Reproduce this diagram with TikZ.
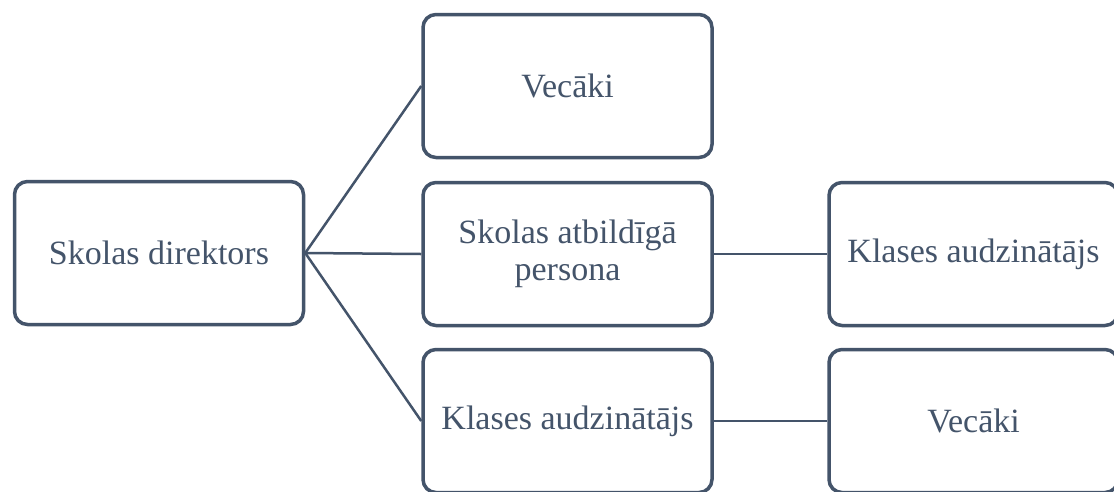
\documentclass[tikz,border=0pt]{standalone}
\usepackage{fontspec}
\setmainfont{Liberation Serif}
\definecolor{slate}{HTML}{44546A}
\begin{document}
\begin{tikzpicture}[x=1pt,y=-1pt,
  box/.style={draw=slate, line width=3.5pt, rounded corners=13pt, fill=white,
    minimum width=289pt, minimum height=143pt, inner sep=0pt, text=slate,
    font=\fontsize{34}{37}\selectfont, align=center},
  link/.style={draw=slate, line width=2.5pt}]
\clip (0,0) rectangle (1114,491);
\fill[white] (0,0) rectangle (1114,491);
\node[box] (dir) at (159,253) {Skolas direktors};
\node[box] (vec1) at (567.5,86) {Vecāki};
\node[box] (atb) at (567.5,254) {Skolas atbildīgā\\persona};
\node[box] (kl1) at (567.5,421) {Klases audzinātājs};
\node[box] (kl2) at (973.5,254) {Klases audzinātājs};
\node[box] (vec2) at (973.5,421) {Vecāki};
\draw[link] (dir.east) -- (vec1.west);
\draw[link] (dir.east) -- (atb.west);
\draw[link] (dir.east) -- (kl1.west);
\draw[link] (atb.east) -- (kl2.west);
\draw[link] (kl1.east) -- (vec2.west);
\end{tikzpicture}
\end{document}
